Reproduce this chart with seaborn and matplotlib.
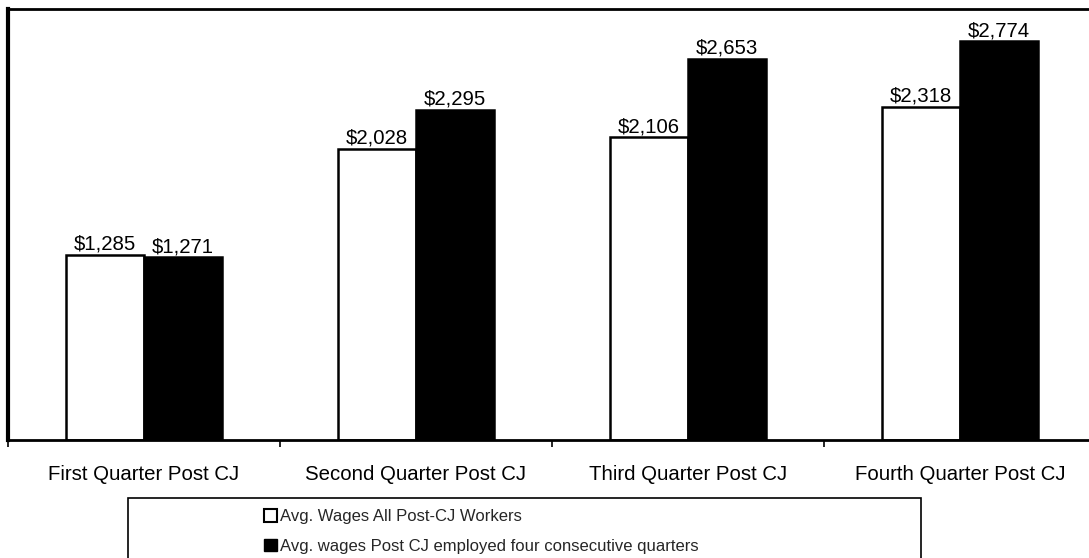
import matplotlib
matplotlib.use("Agg")
import matplotlib.pyplot as plt
import seaborn as sns
import pandas as pd
from matplotlib.patches import Rectangle, Patch

categories = ["First Quarter Post CJ", "Second Quarter Post CJ",
              "Third Quarter Post CJ", "Fourth Quarter Post CJ"]
series_names = ["Avg. Wages All Post-CJ Workers",
                "Avg. wages Post CJ employed four consecutive quarters"]
all_workers = [1285, 2028, 2106, 2318]
four_quarters = [1271, 2295, 2653, 2774]

df = pd.DataFrame({
    "quarter": categories * 2,
    "series": [series_names[0]] * 4 + [series_names[1]] * 4,
    "wage": all_workers + four_quarters,
})

sns.set_theme(style="white")
plt.rcParams["font.family"] = ["Liberation Sans", "DejaVu Sans"]

W, H = 1089, 558
fig = plt.figure(figsize=(W / 100, H / 100), dpi=100)
ax = fig.add_axes([8 / W, 1 - 440 / H, (1096 - 8) / W, (440 - 9) / H])

palette = {series_names[0]: "white", series_names[1]: "black"}
sns.barplot(data=df, x="quarter", y="wage", hue="series", order=categories,
            hue_order=series_names, palette=palette, width=0.57,
            edgecolor="black", linewidth=1.8, saturation=1, ax=ax,
            legend=False, errorbar=None)

ax.set_xlim(-0.5, 3.5)
ax.set_ylim(0, 3000)
ax.set_xlabel("")
ax.set_ylabel("")
ax.set_yticks([])

for side in ["top", "left", "bottom"]:
    ax.spines[side].set_visible(True)
    ax.spines[side].set_color("black")
    ax.spines[side].set_linewidth(2)
ax.spines["right"].set_visible(False)
ax.spines["left"].set_linewidth(3)

ax.set_xticks(range(4))
ax.set_xticklabels(categories, fontsize=14.7, color="black")
ax.set_xticks([-0.5, 0.5, 1.5, 2.5, 3.5], minor=True)
ax.tick_params(axis="x", which="major", length=0, pad=18)
ax.tick_params(axis="x", which="minor", length=5, width=1.2, color="black",
               direction="out", bottom=True)

for container in ax.containers:
    ax.bar_label(container, labels=[f"${v:,.0f}" for v in container.datavalues],
                 padding=1, fontsize=14.7, color="black")

# legend box
fig.patches.append(Rectangle((128 / W, 1 - 580 / H), (921 - 128) / W, (580 - 498) / H,
                             transform=fig.transFigure, facecolor="white",
                             edgecolor="black", linewidth=1.2, zorder=5))
handles = [Patch(facecolor="white", edgecolor="black", linewidth=1.5),
           Patch(facecolor="black", edgecolor="black")]
leg = fig.legend(handles, series_names, loc="upper left",
                 bbox_to_anchor=(256 / W, 1 - 501 / H), frameon=False,
                 fontsize=12, handlelength=0.75, handleheight=0.75,
                 handletextpad=0.2, labelspacing=0.85, borderpad=0)
leg.set_zorder(6)

fig.savefig("out.png", dpi=100)
